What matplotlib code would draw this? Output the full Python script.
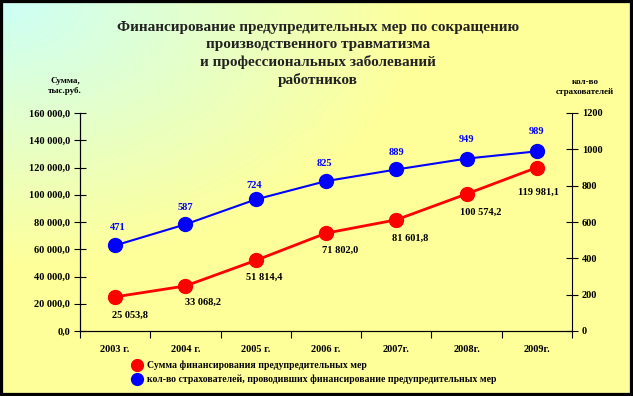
import matplotlib.pyplot as plt
import numpy as np
from matplotlib.patches import Rectangle

years = ["2003 г.", "2004 г.", "2005 г.", "2006 г.", "2007г.", "2008г.", "2009г."]
funding = [25053.8, 33068.2, 51814.4, 71802.0, 81601.8, 100574.2, 119981.1]
insurers = [471, 587, 724, 825, 889, 949, 989]

funding_name = "Сумма финансирования предупредительных мер"
insurers_name = "кол-во страхователей, проводивших финансирование предупредительных мер"
title = ("Финансирование предупредительных мер по сокращению\n"
         "производственного травматизма\n"
         "и профессиональных заболеваний\n"
         "работников")


def fmt_thousands(v):
    return f"{v:,.1f}".replace(",", " ").replace(".", ",")


plt.rcParams["font.family"] = ["Liberation Serif", "DejaVu Serif"]
plt.rcParams["font.weight"] = "bold"

fig = plt.figure(figsize=(6.33, 3.96), dpi=100)

# background: light cyan in the top-left corner fading to yellow
bg = fig.add_axes([0, 0, 1, 1], zorder=-10)
px, py = np.meshgrid(np.arange(633), np.arange(396))
t = np.clip(np.sqrt(px ** 2 + (py * 1.6) ** 2) / 430, 0, 1)
c0 = np.array([0.80, 1.0, 0.97])
c1 = np.array([1.0, 1.0, 0.60])
img = c0 * (1 - t[..., None]) + c1 * t[..., None]
bg.imshow(img, aspect="auto", extent=[0, 1, 0, 1], origin="upper")
bg.axis("off")
fig.patches.append(Rectangle((0, 0), 1, 1, transform=fig.transFigure, fill=False,
                             edgecolor="black", linewidth=4.5, zorder=100))

ax = fig.add_axes([80 / 633, 1 - 331 / 396, 492 / 633, 218 / 396])
ax.patch.set_alpha(0)
ax2 = ax.twinx()

x = np.arange(len(years))
l1, = ax.plot(x, funding, color="#ff0000", lw=2, marker="o", ms=10,
              label=funding_name, zorder=3)
l2, = ax2.plot(x, insurers, color="#0000ff", lw=1.5, marker="o", ms=10,
               label=insurers_name, zorder=3)

ax.set_xlim(-0.5, len(years) - 0.5)
ax.set_ylim(0, 160000)
ax2.set_ylim(0, 1200)
yt = np.arange(0, 160001, 20000)
ax.set_yticks(yt)
ax.set_yticklabels([fmt_thousands(v) for v in yt])
ax2.set_yticks(np.arange(0, 1201, 200))
ax.set_xticks(np.arange(-0.5, len(years), 1))
ax.set_xticklabels([])
ax.set_xticks(x, minor=True)
ax.set_xticklabels(years, minor=True)
ax.tick_params(axis="x", which="minor", length=0, pad=10, labelsize=7.5)
ax.tick_params(axis="x", which="major", direction="out", length=5)
ax.tick_params(axis="y", direction="inout", length=8, labelsize=7.5, pad=3)
ax2.tick_params(axis="y", direction="inout", length=8, labelsize=7.5, pad=3)

for a in (ax, ax2):
    a.spines["top"].set_visible(False)
ax.spines["right"].set_visible(False)

# data labels (offsets in points mimic the original placement)
red_off = [(11, -13), (13, -12), (6, -12), (10, -12), (10, -13), (10, -13), (1.5, -18)]
blue_off = [(2, 13), (0, 12), (-1, 10), (-1, 13), (0, 12), (0, 14), (0, 14)]
for xi, v, o in zip(x, funding, red_off):
    ax.annotate(fmt_thousands(v), (xi, v), xytext=o, textcoords="offset points",
                ha="center", va="center", fontsize=7.5, color="black")
for xi, v, o in zip(x, insurers, blue_off):
    ax2.annotate(str(v), (xi, v), xytext=o, textcoords="offset points",
                 ha="center", va="center", fontsize=7.5, color="#0000ff")

fig.text(0.502, 1 - 54 / 396, title, ha="center", va="center", fontsize=11,
         linespacing=1.4, color="#222222")
fig.text(65 / 633, 1 - 86 / 396, "Сумма,\nтыс.руб.", ha="center", va="center",
         fontsize=6.5, linespacing=1.4)
fig.text(585 / 633, 1 - 87 / 396, "кол-во\nстрахователей", ha="center", va="center",
         fontsize=6.5, linespacing=1.4)

fig.legend(handles=[l1, l2], loc="upper left", bbox_to_anchor=(132 / 633, 1 - 361 / 396),
           frameon=False, fontsize=7, handlelength=1.0, handletextpad=0.5,
           labelspacing=0.45, borderpad=0, borderaxespad=0, markerscale=0.85)

fig.savefig("out.png", dpi=100)
